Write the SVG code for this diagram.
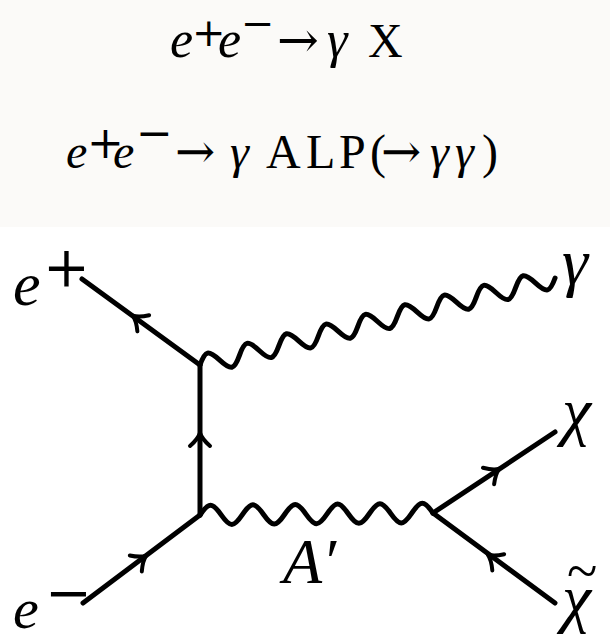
<svg xmlns="http://www.w3.org/2000/svg" xmlns:xlink="http://www.w3.org/1999/xlink" width="610" height="638" viewBox="0 0 610 638">
<style>
.t{font-family:"Liberation Serif","Times New Roman",serif;fill:#000}
.i{font-style:italic}
.s{font-family:"DejaVu Serif","Liberation Serif",serif;fill:#000}
.f{fill:none;stroke:#000;stroke-width:5;stroke-linecap:round}
.w{fill:none;stroke:#000;stroke-width:5;stroke-linecap:round}
.a{fill:none;stroke:#000;stroke-width:4;stroke-linecap:round;stroke-linejoin:round}
</style>
<defs>
<path id="arr" d="M-9,-10 Q-2,-2 4,0 Q-2,2 -9,10"/>
</defs>
<rect x="0" y="0" width="610" height="227" fill="#fbfaf8"/>
<g id="formula1">
<text class="t i" x="170" y="57" font-size="52">e</text>
<text class="s" x="192" y="46" font-size="40">+</text>
<text class="t i" x="218" y="57" font-size="52">e</text>
<text class="s" x="241" y="37" font-size="40">−</text>
<text class="s" x="277" y="57" font-size="50">→</text>
<text class="t i" x="327" y="57" font-size="52">γ</text>
<text class="t" x="368" y="57" font-size="48">X</text>
</g>
<g id="formula2">
<text class="t i" x="66" y="168" font-size="48">e</text>
<text class="s" x="87" y="158" font-size="44">+</text>
<text class="t i" x="113" y="168" font-size="48">e</text>
<text class="s" x="136" y="148" font-size="44">−</text>
<text class="s" x="175" y="168" font-size="48">→</text>
<text class="t i" x="230" y="168" font-size="48">γ</text>
<text class="t" y="168" font-size="48"><tspan x="266 306 339 370">ALP(</tspan></text>
<text class="s" x="381" y="168" font-size="48">→</text>
<text class="t i" y="168" font-size="48"><tspan x="430 455">γγ</tspan></text>
<text class="t" x="482" y="168" font-size="48">)</text>
</g>
<g id="connectors">
<line id="eplus-line" class="f" x1="82" y1="279" x2="200" y2="365"/>
<line id="propagator" class="f" x1="200" y1="365" x2="200" y2="515"/>
<line id="eminus-line" class="f" x1="83" y1="603" x2="200" y2="515"/>
<line id="chi-line" class="f" x1="433" y1="513" x2="555" y2="432"/>
<line id="chibar-line" class="f" x1="433" y1="513" x2="555" y2="603"/>
<path id="photon" class="w" transform="translate(200,365) rotate(-13.77)" d="M0,0 C8.62,-13 11.69,-13 20.31,0 S32.00,13 40.62,0 S52.31,-13 60.93,0 S72.62,13 81.24,0 S92.93,-13 101.55,0 S113.24,13 121.86,0 S133.55,-13 142.17,0 S153.86,13 162.48,0 S174.17,-13 182.79,0 S194.48,13 203.10,0 S214.79,-13 223.41,0 S235.10,13 243.72,0 S255.41,-13 264.03,0 S275.72,13 284.34,0 S296.03,-13 304.65,0 S316.34,13 324.96,0 S336.65,-13 345.27,0 S356.96,13 365.58,0"/>
<path id="darkphoton" class="w" transform="translate(200,515) rotate(-0.5)" d="M0,0 C8.99,-13 12.19,-13 21.18,0 S33.37,13 42.36,0 S54.55,-13 63.54,0 S75.73,13 84.72,0 S96.91,-13 105.90,0 S118.09,13 127.08,0 S139.27,-13 148.26,0 S160.45,13 169.44,0 S181.63,-13 190.62,0 S202.81,13 211.80,0 S223.99,-13 232.98,0"/>
<use xlink:href="#arr" class="a" transform="translate(136,318) rotate(216.1)"/>
<use xlink:href="#arr" class="a" transform="translate(200,437) rotate(-90)"/>
<use xlink:href="#arr" class="a" transform="translate(143,558) rotate(-36.95)"/>
<use xlink:href="#arr" class="a" transform="translate(496,471) rotate(-33.9)"/>
<use xlink:href="#arr" class="a" transform="translate(491,557) rotate(216.4)"/>
</g>
<g id="n-eplus"><text class="t i" x="13" y="305" font-size="62">e</text><text class="s" x="43" y="286" font-size="56">+</text></g>
<g id="n-eminus"><text class="t i" x="13" y="628" font-size="58">e</text><text class="s" x="45" y="612" font-size="56">−</text></g>
<g id="n-gamma"><text class="t i" x="562" y="284" font-size="66">γ</text></g>
<g id="n-chi"><text class="t i" x="562" y="433" font-size="66">χ</text></g>
<g id="n-chibar"><text class="t" x="567" y="590" font-size="56">~</text><text class="t i" x="562" y="620" font-size="66">χ</text></g>
<g id="n-aprime"><text class="t i" x="283" y="583" font-size="64">A′</text></g>
</svg>
